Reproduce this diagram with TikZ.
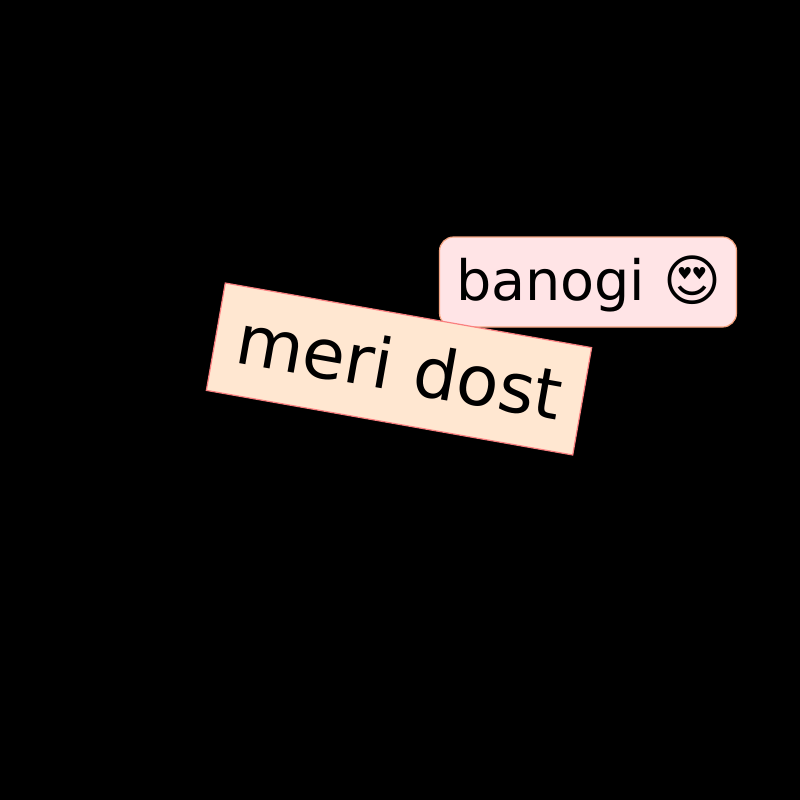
\documentclass[tikz,border=0pt]{standalone}
\usepackage{fontspec}
\setmainfont{DejaVu Sans}
\definecolor{pinkedge}{RGB}{244,164,130}
\definecolor{pinkfill}{RGB}{255,228,230}
\definecolor{peachedge}{RGB}{250,128,128}
\definecolor{peachfill}{RGB}{255,231,209}
\tikzset{
  pinkbox/.style={draw=pinkedge,fill=pinkfill,line width=1.2pt,rounded corners=14pt,minimum width=297pt,minimum height=90pt,inner sep=0pt},
  peachbox/.style={draw=peachedge,fill=peachfill,line width=1.2pt,minimum width=372pt,minimum height=109pt,inner sep=0pt,rotate=-10},
}
\begin{document}
\begin{tikzpicture}[x=1pt,y=-1pt]
\path[fill=black,use as bounding box] (0,0) rectangle (800,800);
\node[pinkbox] (b) at (588,282) {};
\node[anchor=base,inner sep=0pt,font=\fontsize{55.6pt}{66pt}\selectfont] (bt) at (588.5,300) {banogi 😍};
\node[peachbox] (m) at (399,369) {};
\node[rotate=-10,inner sep=0pt,font=\fontsize{69.3pt}{84pt}\selectfont] (mt) at (400,366) {meri dost};
\end{tikzpicture}
\end{document}
